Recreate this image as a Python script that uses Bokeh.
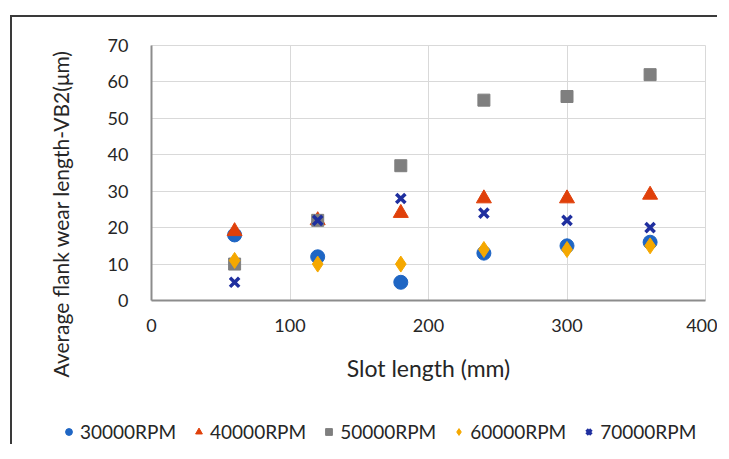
from bokeh.plotting import figure
from bokeh.layouts import column, row
from bokeh.models import Legend, LegendItem, Range1d, FixedTicker, Title
from bokeh.embed import file_html
from bokeh.resources import INLINE

slot_length = [60, 120, 180, 240, 300, 360]
rpm30000 = [18, 12, 5, 13, 15, 16]
rpm40000 = [19, 22, 24, 28, 28, 29]
rpm50000 = [10, 22, 37, 55, 56, 62]
rpm60000 = [11, 10, 10, 14, 14, 15]
rpm70000 = [5, 22, 28, 24, 22, 20]
series_names = ["30000RPM", "40000RPM", "50000RPM", "60000RPM", "70000RPM"]
x_ticks = [0, 100, 200, 300, 400]
y_ticks = [0, 10, 20, 30, 40, 50, 60, 70]

FONT = "Lato"
W = 705

styles = [
    dict(marker="circle", size=14, fill_color="#1f66c4", line_color="#1f66c4"),
    dict(marker="triangle", size=15, fill_color="#e0400a", line_color="#e0400a"),
    dict(marker="square", size=12, fill_color="#7f7f7f", line_color="#7f7f7f"),
    dict(marker="diamond", size=16, fill_color="#f5a800", line_color="#f5a800"),
    dict(marker="x", size=13, line_color="#1f2f9f", line_width=3.5),
]
series = [rpm30000, rpm40000, rpm50000, rpm60000, rpm70000]

p = figure(width=W, height=375, output_backend="svg", toolbar_location=None,
           x_range=Range1d(0, 400), y_range=Range1d(0, 70),
           min_border_left=139, min_border_right=12, min_border_top=28,
           min_border_bottom=92)
p.outline_line_color = "#d9d9d9"
p.xaxis.ticker = FixedTicker(ticks=x_ticks)
p.yaxis.ticker = FixedTicker(ticks=y_ticks)
for ax in (p.xaxis[0], p.yaxis[0]):
    ax.axis_line_color = "#8c8c8c"
    ax.axis_line_width = 2
    ax.major_tick_line_color = None
    ax.minor_tick_line_color = None
    ax.major_tick_out = 0
    ax.major_label_text_font = FONT
    ax.major_label_text_font_size = "18px"
    ax.major_label_text_color = "#262626"
    ax.axis_label_text_font = FONT
    ax.axis_label_text_font_style = "normal"
    ax.axis_label_text_color = "#262626"
p.xaxis.axis_label = "Slot length (mm)"
p.xaxis.axis_label_text_font_size = "23px"
p.xaxis.major_label_standoff = 18
p.yaxis.major_label_standoff = 23
p.xaxis.axis_label_standoff = 19
p.xgrid.grid_line_color = "#d9d9d9"
p.ygrid.grid_line_color = "#d9d9d9"

ytitle = Title(text="Average flank wear length-VB2(\u03bcm)", align="left", offset=-77,
               standoff=64, text_font=FONT, text_font_size="21px",
               text_font_style="normal", text_color="#262626")
p.add_layout(ytitle, "left")

for ys, st in zip(series, styles):
    p.scatter(slot_length, ys, **st)

# legend strip below the chart (its proxy glyphs sit outside its visible range)
q = figure(width=W, height=52, output_backend="svg", toolbar_location=None,
           x_range=Range1d(1000, 1001), y_range=Range1d(1000, 1001),
           x_axis_location=None, y_axis_location=None,
           min_border_left=0, min_border_right=0, min_border_top=0, min_border_bottom=0)
q.grid.visible = False
q.outline_line_color = None
renderers = [q.scatter(slot_length, ys, **st) for ys, st in zip(series, styles)]
legend = Legend(items=[LegendItem(label=n, renderers=[r]) for n, r in zip(series_names, renderers)],
                orientation="horizontal", location=(48, 1))
legend.label_text_font = FONT
legend.label_text_font_size = "19px"
legend.label_text_color = "#262626"
legend.glyph_width = 17
legend.glyph_height = 17
legend.label_standoff = 3
legend.spacing = 14
legend.padding = 0
legend.margin = 0
legend.border_line_color = None
legend.background_fill_alpha = 0
q.add_layout(legend, "center")

layout = column(p, row(q), spacing=0)
layout.styles = {"border-left": "2px solid #3a3a3a", "border-top": "2px solid #3a3a3a",
                 "margin-left": "10px", "margin-top": "15px"}

open("out.html", "w").write(file_html(layout, INLINE))
